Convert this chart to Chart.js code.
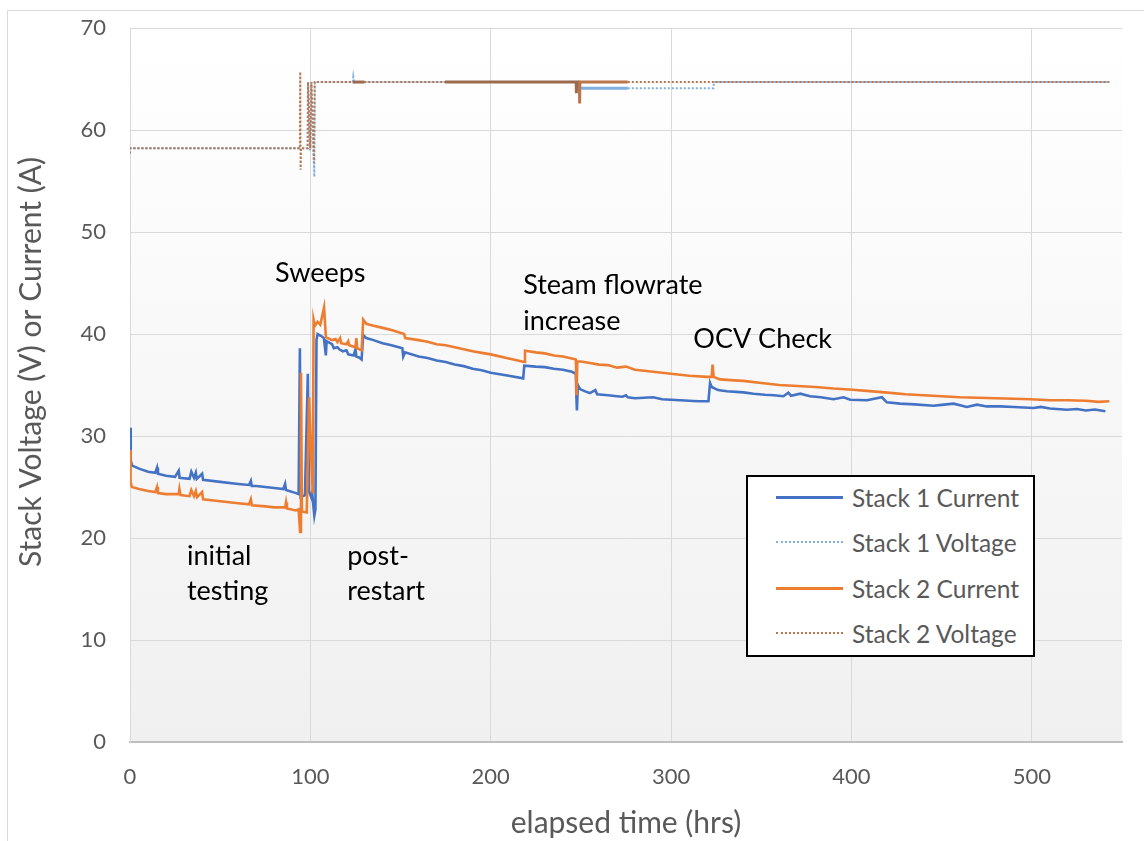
<!DOCTYPE html>
<html>
<head>
<meta charset="utf-8">
<script src="https://cdn.jsdelivr.net/npm/chart.js@4.4.1/dist/chart.umd.min.js"></script>
<style>
  html, body { margin: 0; padding: 0; background: #fff; }
  #wrap { position: relative; width: 1144px; height: 841px; overflow: hidden; font-family: Lato, sans-serif; }
  #frame { position: absolute; left: 7px; top: 10px; width: 1200px; height: 900px; border-left: 1px solid #d9d9d9; border-top: 1px solid #d9d9d9; }
  #chart { position: absolute; left: 0; top: 0; }
  #legend { position: absolute; left: 746px; top: 475px; width: 285px; height: 178px; border: 2px solid #000; background: #fff; }
  .row { position: absolute; left: 28px; height: 30px; display: flex; align-items: center; }
  .swatch { width: 67px; margin-right: 9px; }
  .row span { font-size: 24.5px; color: #595959; white-space: nowrap; }
</style>
</head>
<body>
<div id="wrap">
  <div id="frame"></div>
  <canvas id="chart" width="1144" height="841"></canvas>
  <div id="legend"></div>
</div>
<script>
// [hours, value] pairs
const stack1Current = [
  [0, 30.8], [0.4, 27.6], [1.2, 27.1], [5, 26.8], [10, 26.5], [14, 26.4], [15, 26.9], [15.5, 26.3],
  [20, 26.1], [25, 26.0], [27, 26.6], [27.5, 25.9], [33, 25.8], [34, 26.5], [35.5, 25.9], [36.5, 26.4],
  [37, 25.8], [40, 26.3], [40.5, 25.7], [50, 25.5], [60, 25.3], [66, 25.2], [67, 25.6], [67.5, 25.1],
  [70, 25.1], [80, 24.9], [85, 24.8], [86, 25.3], [86.5, 24.7], [92, 24.4], [93.5, 24.3], [94.2, 38.6],
  [94.6, 24.0], [97, 24.2], [98.6, 36.1], [99.2, 24.6], [100.5, 24.0], [101, 24.4], [102.2, 22.2],
  [102.8, 22.8], [103.4, 39.4], [104, 40.0], [106, 39.8], [107.5, 39.6], [108.6, 37.9], [109, 39.3],
  [112, 39.0], [113, 38.6], [115, 38.7], [116, 38.5], [118, 38.3], [120, 38.4], [121, 38.0], [124, 37.9],
  [125, 38.5], [125.5, 37.8], [127, 37.7], [128.4, 37.5], [129.3, 39.9], [131, 39.6], [135, 39.4],
  [140, 39.1], [145, 38.9], [151, 38.6], [151.5, 37.8], [152.5, 38.2], [160, 37.8], [165, 37.65],
  [170, 37.4], [175, 37.25], [180, 37.0], [185, 36.85], [190, 36.6], [195, 36.45], [200, 36.2],
  [210, 35.9], [218, 35.65], [218.6, 36.9], [225, 36.8], [230, 36.75], [235, 36.6], [240, 36.5],
  [245, 36.3], [247.2, 36.1], [247.5, 33.8], [247.8, 32.5], [248.3, 35.0], [249.5, 34.6], [252, 34.4],
  [255, 34.2], [258, 34.5], [259, 34.1], [265, 34.0], [270, 33.9], [273, 33.85], [275, 34.0], [276, 33.8],
  [280, 33.7], [285, 33.75], [290, 33.8], [295, 33.6], [305, 33.5], [315, 33.4], [320.7, 33.4],
  [321.6, 35.2], [322.5, 34.8], [326, 34.5], [330.9, 34.38], [340.1, 34.28], [345.7, 34.15],
  [352, 34.05], [357, 34.0], [362.3, 33.9], [365, 34.25], [366.5, 33.95], [371.6, 34.15], [377.1, 33.9],
  [383, 33.8], [390.1, 33.6], [395.6, 33.8], [399.3, 33.56], [408.6, 33.5], [416.9, 33.8],
  [419.6, 33.3], [427, 33.17], [435, 33.1], [445.5, 32.97], [450, 33.05], [456.6, 33.17], [464, 32.84],
  [469.6, 33.07], [475, 32.9], [482.5, 32.9], [490, 32.85], [501, 32.74], [505, 32.85], [510, 32.7],
  [519.5, 32.58], [525, 32.65], [530, 32.5], [535, 32.6], [540.8, 32.42]
];

const stack1Voltage = [
  [0, 58.2], [98.5, 58.2], [98.7, 64.7], [99.8, 58.0], [100.4, 64.7], [102.2, 55.4], [102.5, 64.7],
  [123.5, 64.7], [123.8, 65.2], [124.2, 64.7], [249.2, 64.7], [249.3, 64.1], [276, 64.1], [323.5, 64.1],
  [323.8, 64.7], [543, 64.7]
];

const stack2Current = [
  [0, 28.6], [0.3, 25.5], [1, 25.0], [5, 24.8], [10, 24.6], [14, 24.5], [15, 25.0], [15.5, 24.4],
  [20, 24.3], [27, 24.3], [27.4, 24.8], [28, 24.2], [33, 24.1], [34, 24.7], [35.5, 24.1], [36.5, 24.6],
  [37.2, 24.0], [40, 24.5], [40.5, 23.8], [50, 23.6], [60, 23.4], [66, 23.3], [67, 23.8], [67.6, 23.2],
  [75, 23.1], [80, 23.0], [86, 23.0], [86.5, 23.5], [87, 22.9], [92, 22.7], [93.5, 22.8], [94.3, 20.6],
  [94.8, 36.2], [95.3, 22.6], [98, 22.5], [99.3, 33.8], [100.2, 29.0], [101.3, 24.4], [101.8, 41.4],
  [102.5, 40.8], [104, 41.2], [105.5, 40.9], [107.6, 42.6], [108.6, 39.7], [112, 39.4], [114, 39.5],
  [115, 39.2], [116.5, 39.6], [117, 39.1], [120, 39.0], [121, 39.3], [121.5, 38.9], [125, 38.7],
  [125.5, 39.6], [126, 38.6], [128.4, 38.4], [128.9, 40.0], [129.3, 41.4], [131, 41.0], [135, 40.8],
  [140, 40.6], [145, 40.4], [152, 40.0], [152.6, 39.6], [160, 39.4], [165, 39.25], [170, 39.0],
  [175, 38.9], [180, 38.7], [185, 38.5], [190, 38.3], [195, 38.15], [200, 38.0], [210, 37.6],
  [218.6, 37.25], [219, 38.35], [225, 38.2], [230, 38.1], [235, 37.9], [240, 37.8], [245, 37.6],
  [247.2, 37.5], [247.6, 34.0], [248, 37.3], [250, 37.3], [255, 37.15], [260, 37.0], [265, 36.95],
  [270, 36.7], [275, 36.8], [280, 36.5], [290, 36.3], [300, 36.1], [310, 35.9], [320, 35.8],
  [322.5, 35.8], [323, 37.0], [323.6, 35.8], [327.2, 35.55], [335, 35.45], [340, 35.4], [350, 35.2],
  [360, 35.0], [370, 34.9], [380, 34.8], [390, 34.65], [400.6, 34.54], [410, 34.4], [420, 34.25],
  [430, 34.1], [440, 34.0], [450, 33.9], [460, 33.8], [470, 33.75], [480, 33.7], [490, 33.65],
  [499.2, 33.6], [510, 33.5], [520, 33.5], [530, 33.45], [537, 33.35], [543, 33.4]
];

const stack2Voltage = [
  [0, 57.7], [0.1, 58.2], [94.2, 58.2], [94.4, 65.7], [94.6, 56.1], [94.8, 58.2], [98.5, 58.2],
  [98.7, 64.7], [100, 58.2], [100.6, 64.7], [102, 56.8], [102.4, 64.7], [123.5, 64.7], [130, 64.7],
  [174.6, 64.7], [247.4, 64.7], [247.5, 63.6], [247.6, 64.7], [249.2, 64.7], [249.3, 62.6],
  [249.4, 64.7], [276, 64.7], [543, 64.7]
];

const seriesNames = ['Stack 1 Current', 'Stack 1 Voltage', 'Stack 2 Current', 'Stack 2 Voltage'];
const xTicks = [0, 100, 200, 300, 400, 500];
const yTicks = [0, 10, 20, 30, 40, 50, 60, 70];

// text notes: left edge and baseline in chart units
const notes = [
  { text: 'Sweeps', x: 80.4, y: 45.1 },
  { text: 'Steam flowrate', x: 218, y: 43.95 },
  { text: 'increase', x: 218, y: 40.4 },
  { text: 'OCV Check', x: 312.3, y: 38.65 },
  { text: 'initial', x: 31.6, y: 17.4 },
  { text: 'testing', x: 31.6, y: 13.95 },
  { text: 'post-', x: 120.4, y: 17.4 },
  { text: 'restart', x: 120.4, y: 13.95 }
];

const FONT = 'Lato, sans-serif';
const toXY = (pairs) => pairs.map(([x, y]) => ({ x, y }));

// dense stretches of the voltage logs print as a solid line
const denseRanges = [[123.5, 130], [174.6, 276]];
const isDense = (ctx) => denseRanges.some(([a, b]) => ctx.p0.parsed.x >= a && ctx.p1.parsed.x <= b);

const plotBg = {
  id: 'plotBg',
  beforeDraw(chart) {
    const { ctx, chartArea: a } = chart;
    const g = ctx.createLinearGradient(0, a.top, 0, a.bottom);
    g.addColorStop(0, '#ffffff');
    g.addColorStop(1, '#f0f0f0');
    ctx.save();
    ctx.fillStyle = g;
    ctx.fillRect(a.left, a.top, a.right - a.left, a.bottom - a.top);
    ctx.restore();
  }
};

const textLayer = {
  id: 'textLayer',
  afterDatasetsDraw(chart) {
    const { ctx, scales: { x, y } } = chart;
    ctx.save();
    ctx.font = '27px ' + FONT;
    ctx.fillStyle = '#000';
    ctx.textAlign = 'left';
    ctx.textBaseline = 'alphabetic';
    notes.forEach((n) => ctx.fillText(n.text, x.getPixelForValue(n.x), y.getPixelForValue(n.y)));
    // y axis title
    ctx.fillStyle = '#595959';
    ctx.font = '30px ' + FONT;
    ctx.translate(31, 362);
    ctx.rotate(-Math.PI / 2);
    ctx.textAlign = 'center';
    ctx.textBaseline = 'middle';
    ctx.fillText('Stack Voltage (V) or Current (A)', 0, 0);
    ctx.restore();
  }
};

const datasets = [
  {
    label: seriesNames[0], data: toXY(stack1Current), order: 4,
    borderColor: '#4472C4', borderWidth: 2.6
  },
  {
    label: seriesNames[1], data: toXY(stack1Voltage), order: 3,
    borderColor: '#7fb0e0', borderWidth: 2, borderDash: [2, 2],
    segment: {
      borderDash: (c) => (c.p0.parsed.x >= 249.2 && c.p1.parsed.x <= 276 ? [] : [2, 2]),
      borderWidth: (c) => (c.p0.parsed.x >= 249.2 && c.p1.parsed.x <= 276 ? 3 : 2)
    }
  },
  {
    label: seriesNames[2], data: toXY(stack2Current), order: 2,
    borderColor: '#ED7D31', borderWidth: 2.6
  },
  {
    label: seriesNames[3], data: toXY(stack2Voltage), order: 1,
    borderColor: '#b9764c', borderWidth: 2, borderDash: [2, 2],
    segment: {
      borderDash: (c) => (isDense(c) ? [] : [2, 2]),
      borderWidth: (c) => (isDense(c) ? 3 : 2),
      borderColor: (c) => (isDense(c) && c.p1.parsed.x <= 249.2 ? '#9c6a4f' : '#b9764c')
    }
  }
];
datasets.forEach((d) => { d.pointRadius = 0; d.tension = 0; d.fill = false; });

new Chart(document.getElementById('chart'), {
  type: 'line',
  data: { datasets },
  options: {
    responsive: false,
    animation: false,
    layout: { padding: { left: 0, right: 22, top: 28, bottom: 0 } },
    plugins: { legend: { display: false }, tooltip: { enabled: false } },
    scales: {
      x: {
        type: 'linear', min: 0, max: 550,
        afterBuildTicks: (s) => { s.ticks = xTicks.map((v) => ({ value: v })); },
        afterFit: (s) => { s.height = 99; s.paddingLeft = 0; s.paddingRight = 0; },
        grid: { color: '#d9d9d9', lineWidth: 1, drawTicks: false },
        border: { color: '#bfbfbf', width: 2 },
        ticks: { color: '#595959', font: { family: FONT, size: 22 }, padding: 22 },
        title: { display: true, text: 'elapsed time (hrs)', color: '#595959', font: { family: FONT, size: 30 }, padding: { top: 0, bottom: 0 } }
      },
      y: {
        min: 0, max: 70,
        afterBuildTicks: (s) => { s.ticks = yTicks.map((v) => ({ value: v })); },
        afterFit: (s) => { s.width = 130; s.paddingTop = 0; s.paddingBottom = 0; },
        grid: { color: '#d9d9d9', lineWidth: 1, drawTicks: false },
        border: { color: '#d9d9d9', width: 1 },
        ticks: { color: '#595959', font: { family: FONT, size: 22 }, padding: 24 }
      }
    }
  },
  plugins: [plotBg, textLayer]
});

// legend box drawn as html, in the original series order
const legendStyles = [
  'border-top: 3px solid #4472C4',
  'border-top: 2px dotted #7fb0e0',
  'border-top: 3px solid #ED7D31',
  'border-top: 2px dotted #b9764c'
];
const rowTops = [5, 50, 96, 141];
const legendEl = document.getElementById('legend');
seriesNames.forEach((name, i) => {
  const row = document.createElement('div');
  row.className = 'row';
  row.style.top = rowTops[i] + 'px';
  row.innerHTML = `<div class="swatch" style="${legendStyles[i]}"></div><span>${name}</span>`;
  legendEl.appendChild(row);
});
</script>
</body>
</html>
